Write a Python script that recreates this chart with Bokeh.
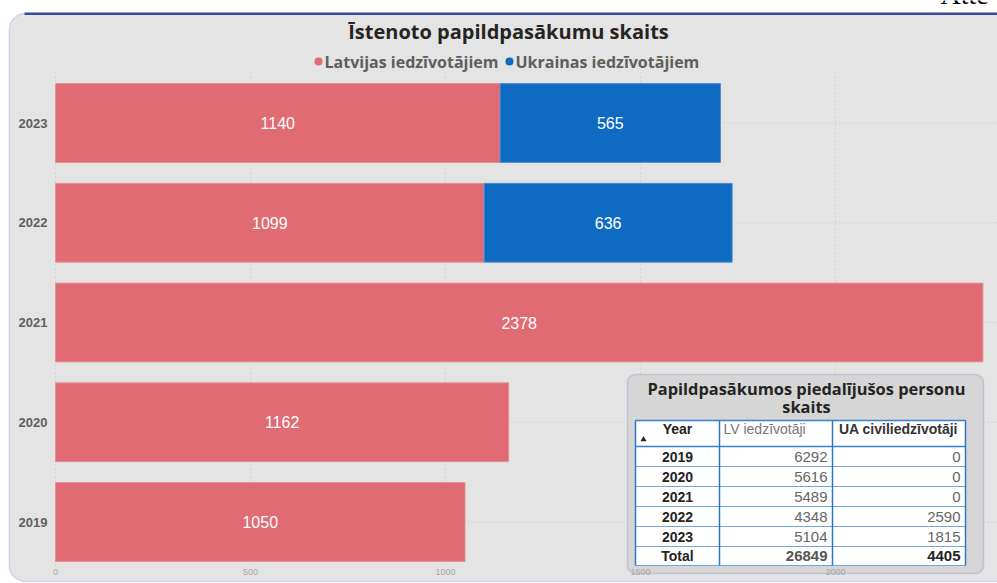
from bokeh.plotting import figure
from bokeh.models import Range1d, FixedTicker, BoxAnnotation
from bokeh.core.properties import value
from bokeh.embed import file_html
from bokeh.resources import INLINE

# ---------------- data ----------------
chart_title = "Īstenoto papildpasākumu skaits"
series_names = ["Latvijas iedzīvotājiem", "Ukrainas iedzīvotājiem"]
years = ["2019", "2020", "2021", "2022", "2023"]
lv_events = [1050, 1162, 2378, 1099, 1140]
ua_events = [0, 0, 0, 636, 565]
x_ticks = [0, 500, 1000, 1500, 2000]

table_title = ["Papildpasākumos piedalījušos personu", "skaits"]
table_columns = ["Year", "LV iedzīvotāji", "UA civiliedzīvotāji"]
table_years = ["2019", "2020", "2021", "2022", "2023"]
lv_persons = [6292, 5616, 5489, 4348, 5104]
ua_persons = [0, 0, 0, 2590, 1815]
total_label = "Total"
page_heading = "Atte"

# ---------------- style / layout ----------------
RED = "#E06B73"
BLUE = "#0F6BC2"
BG = "#e4e4e4"
DARK = "#252423"
FONT = "Liberation Sans"
HFONT = "Open Sans"

W, H = 997, 583
X0_PX = 55            # pixel of value 0
PX_PER_UNIT = 0.39
ROW_PX = 99.75
TOP_ROW_CENTER = 122.5
PLOT_BOTTOM = 565
PLOT_TOP = 72
BAR_H = 0.79

n = len(years)
ypos = list(range(n))


def xv(px):
    return (px - X0_PX) / PX_PER_UNIT


def yv(py):
    return (n - 1) - (py - TOP_ROW_CENTER) / ROW_PX


p = figure(width=W, height=H, x_range=Range1d(xv(0), xv(W)), y_range=Range1d(yv(H), yv(0)),
           output_backend="svg", toolbar_location=None, title=None,
           min_border=0, min_border_left=0, min_border_right=0, min_border_top=0,
           min_border_bottom=0, background_fill_color="white", border_fill_color="white",
           outline_line_color=None)
p.extra_x_ranges = {"px": Range1d(0, W)}
p.extra_y_ranges = {"py": Range1d(H, 0)}
p.xgrid.visible = False
p.ygrid.visible = False
P = dict(x_range_name="px", y_range_name="py")

# panel background
p.add_layout(BoxAnnotation(left=8.75, right=1040, top=13, bottom=581, fill_color=BG,
                           fill_alpha=1, line_color="#8e92d8", line_width=1.5,
                           border_radius=16, level="image", **P))

# axes (placed inside the canvas)
xa = p.xaxis[0]
xa.fixed_location = yv(PLOT_BOTTOM - 4)
xa.ticker = FixedTicker(ticks=x_ticks)
xa.axis_line_color = None
xa.major_tick_line_color = None
xa.minor_tick_line_color = None
xa.major_label_text_font = FONT
xa.major_label_text_font_size = "9px"
xa.major_label_text_color = "#a8a8a8"
xa.major_label_standoff = 1

ya = p.yaxis[0]
ya.fixed_location = 0
ya.ticker = FixedTicker(ticks=ypos)
ya.major_label_overrides = {i: years[i] for i in ypos}
ya.axis_line_color = None
ya.major_tick_line_color = None
ya.minor_tick_line_color = None
ya.major_label_text_font = FONT
ya.major_label_text_font_style = "bold"
ya.major_label_text_font_size = "13px"
ya.major_label_text_color = "#5f5f5f"
ya.major_label_standoff = 2

# dotted grid lines drawn from the tick arrays
p.segment(x0=x_ticks, x1=x_ticks, y0=[yv(PLOT_BOTTOM)] * len(x_ticks),
          y1=[yv(PLOT_TOP)] * len(x_ticks),
          line_color="#c2c2c2", line_width=1, line_dash="1 3", level="underlay")
p.segment(x0=[0] * n, x1=[xv(W)] * n, y0=ypos, y1=ypos,
          line_color="#c2c2c2", line_width=1, line_dash="1 3", level="underlay")

# table box (rounded)
p.add_layout(BoxAnnotation(left=627, right=983, top=374, bottom=573,
                           fill_color="#d6d6d6", fill_alpha=1, line_color="#6d8fc4",
                           line_width=1.5, border_radius=8, level="underlay", **P))

# bars
p.hbar(y=ypos, left=[0] * n, right=lv_events, height=BAR_H,
       fill_color=RED, line_color="#e79097", line_width=1)
ua_idx = [i for i in ypos if ua_events[i] > 0]
p.hbar(y=ua_idx, left=[lv_events[i] for i in ua_idx],
       right=[lv_events[i] + ua_events[i] for i in ua_idx], height=BAR_H,
       fill_color=BLUE, line_color="#4a8fd6", line_width=1)

# bar labels
p.text(x=[v / 2 for v in lv_events], y=ypos, text=[str(v) for v in lv_events],
       text_align="center", text_baseline="middle", text_color="white",
       text_font=value(FONT), text_font_size="16px")
p.text(x=[lv_events[i] + ua_events[i] / 2 for i in ua_idx], y=ua_idx,
       text=[str(ua_events[i]) for i in ua_idx],
       text_align="center", text_baseline="middle", text_color="white",
       text_font=value(FONT), text_font_size="16px")

# title and legend
p.text(x=[508], y=[31], text=[chart_title], text_align="center", text_baseline="middle",
       text_color=DARK, text_font=value(HFONT), text_font_style="bold", text_font_size="20px", **P)
legend_dot_x = [318, 509]
p.scatter(x=legend_dot_x, y=[61, 61], size=8, marker="circle",
          fill_color=[RED, BLUE], line_color=None, **P)
p.text(x=[x + 6 for x in legend_dot_x], y=[61, 61], text=series_names, text_align="left",
       text_baseline="middle", text_color="#605e5c", text_font=value(HFONT),
       text_font_style="bold", text_font_size="16px", **P)

# ---------------- table ----------------
col_edges = [635, 719, 832, 965]
row_edges = [420, 446, 466, 486, 506, 526, 546, 565]
p.text(x=[806, 806], y=[388, 406], text=table_title, text_align="center", text_baseline="middle",
       text_color=DARK, text_font=value(HFONT), text_font_style="bold", text_font_size="16.4px", **P)
p.quad(left=[col_edges[0]], right=[col_edges[-1]], top=[row_edges[0]], bottom=[row_edges[-1]],
       fill_color="white", line_color=None, **P)
p.segment(x0=[col_edges[0]] * len(row_edges), x1=[col_edges[-1]] * len(row_edges),
          y0=row_edges, y1=row_edges, line_color="#6fa6e3", line_width=1.2, **P)
p.segment(x0=[col_edges[0]] * 2, x1=[col_edges[-1]] * 2, y0=row_edges[:2], y1=row_edges[:2],
          line_color="#3a80d2", line_width=1.5, **P)
p.segment(x0=col_edges, x1=col_edges, y0=[row_edges[0]] * 4, y1=[row_edges[-1]] * 4,
          line_color="#2f76c8", line_width=1.5, **P)

hdr_y = 428
p.text(x=[677], y=[hdr_y], text=[table_columns[0]], text_align="center", text_baseline="middle",
       text_color=DARK, text_font=value(FONT), text_font_style="bold", text_font_size="14px", **P)
p.scatter(x=[643], y=[439], marker="triangle", size=6, fill_color=DARK, line_color=None, **P)
p.text(x=[723], y=[hdr_y], text=[table_columns[1]], text_align="left", text_baseline="middle",
       text_color="#777777", text_font=value(FONT), text_font_size="14px", **P)
p.text(x=[898], y=[hdr_y], text=[table_columns[2]], text_align="center", text_baseline="middle",
       text_color="#333333", text_font=value(FONT), text_font_style="bold", text_font_size="14px", **P)

row_c = [(row_edges[i + 1] + row_edges[i + 2]) / 2 for i in range(len(table_years))]
p.text(x=[677] * len(table_years), y=row_c, text=table_years, text_align="center",
       text_baseline="middle", text_color=DARK, text_font=value(FONT), text_font_style="bold",
       text_font_size="14px", **P)
p.text(x=[827] * len(table_years), y=row_c, text=[str(v) for v in lv_persons], text_align="right",
       text_baseline="middle", text_color="#666666", text_font=value(FONT), text_font_size="15px", **P)
p.text(x=[960] * len(table_years), y=row_c, text=[str(v) for v in ua_persons], text_align="right",
       text_baseline="middle", text_color="#666666", text_font=value(FONT), text_font_size="15px", **P)
tot_y = (row_edges[-2] + row_edges[-1]) / 2
p.text(x=[677], y=[tot_y], text=[total_label], text_align="center", text_baseline="middle",
       text_color=DARK, text_font=value(FONT), text_font_style="bold", text_font_size="14px", **P)
p.text(x=[827], y=[tot_y], text=[str(sum(lv_persons))], text_align="right", text_baseline="middle",
       text_color="#555555", text_font=value(FONT), text_font_style="bold", text_font_size="15px", **P)
p.text(x=[960], y=[tot_y], text=[str(sum(ua_persons))], text_align="right", text_baseline="middle",
       text_color=DARK, text_font=value(FONT), text_font_style="bold", text_font_size="15px", **P)

# ---------------- page decoration ----------------
p.add_layout(BoxAnnotation(left=24, right=1100, top=12, bottom=14.5, fill_color="#3a4aa0",
                           fill_alpha=1, line_color=None, level="annotation", **P))
p.text(x=[940], y=[9], text=[page_heading], text_align="left", text_baseline="bottom",
       text_color="black", text_font=value("Liberation Serif"), text_font_size="28px", **P)

open("out.html", "w").write(file_html(p, INLINE))
